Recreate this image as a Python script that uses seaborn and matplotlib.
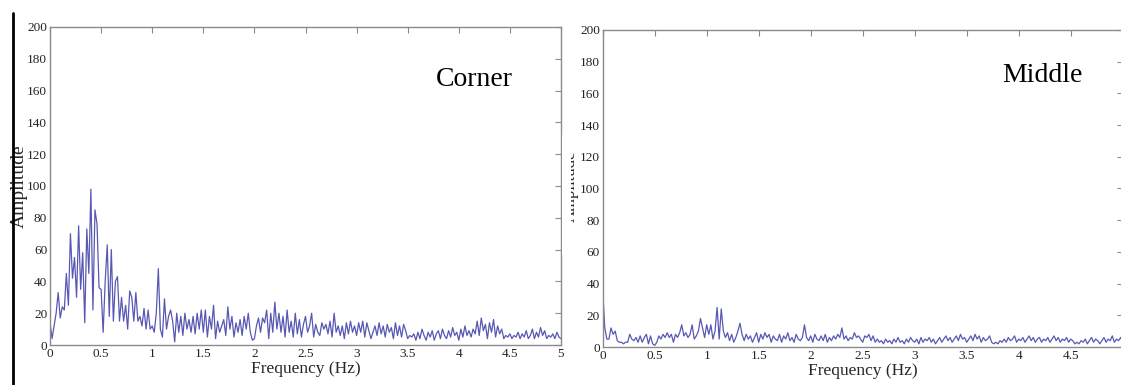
import numpy as np
import pandas as pd
import matplotlib
matplotlib.use("Agg")
import matplotlib.pyplot as plt
import seaborn as sns
from matplotlib.lines import Line2D
from matplotlib.patches import Rectangle

# spectrum amplitudes, one value every 0.02 Hz (0 .. 5 Hz)
corner_amp = [
    14, 4, 12, 20, 33, 17, 24, 22, 45, 25,
    70, 42, 55, 30, 75, 35, 58, 14, 73, 45,
    98, 22, 85, 76, 36, 35, 8, 40, 63, 18,
    60, 15, 40, 43, 15, 30, 15, 25, 10, 34,
    30, 15, 33, 15, 18, 12, 23, 10, 22, 10,
    12, 8, 20, 48, 10, 5, 29, 10, 18, 22,
    15, 2, 20, 8, 18, 6, 20, 10, 16, 8,
    18, 7, 20, 10, 22, 8, 22, 5, 18, 10,
    25, 4, 15, 8, 12, 16, 6, 24, 10, 18,
    5, 14, 8, 16, 6, 18, 10, 20, 8, 3,
    4, 12, 17, 8, 17, 14, 22, 4, 20, 8,
    27, 10, 20, 8, 18, 5, 22, 8, 15, 5,
    20, 7, 16, 5, 13, 18, 8, 12, 20, 5,
    13, 8, 6, 14, 10, 13, 7, 15, 5, 20,
    8, 12, 6, 12, 4, 14, 7, 15, 8, 12,
    6, 14, 8, 15, 5, 14, 9, 4, 8, 12,
    6, 14, 7, 12, 5, 13, 8, 11, 4, 14,
    6, 12, 5, 13, 9, 4, 6, 5, 7, 3,
    8, 4, 10, 6, 3, 8, 5, 9, 3, 7,
    9, 4, 10, 6, 4, 9, 5, 11, 6, 8,
    3, 10, 5, 12, 6, 9, 5, 10, 7, 15,
    6, 17, 9, 13, 4, 14, 8, 16, 5, 12,
    7, 10, 4, 6, 5, 7, 4, 6, 5, 8,
    4, 7, 5, 9, 4, 6, 10, 4, 8, 5,
    11, 6, 9, 4, 6, 5, 7, 4, 8, 5,
    4,
]

middle_amp = [
    36, 12, 5, 5, 12, 8, 10, 4, 3, 3,
    2, 3, 3, 8, 5, 4, 6, 3, 7, 3,
    6, 8, 2, 7, 2, 1, 3, 7, 5, 8,
    6, 9, 6, 8, 3, 8, 6, 9, 14, 7,
    9, 6, 8, 14, 5, 7, 10, 18, 12, 6,
    14, 8, 14, 5, 10, 25, 5, 24, 10, 6,
    9, 4, 8, 3, 6, 10, 15, 8, 4, 8,
    5, 7, 3, 6, 9, 3, 8, 5, 9, 6,
    8, 3, 7, 5, 4, 8, 3, 7, 5, 9,
    4, 6, 3, 8, 5, 4, 6, 14, 6, 4,
    7, 3, 8, 5, 4, 7, 4, 8, 3, 6,
    4, 7, 5, 8, 6, 12, 5, 7, 4, 6,
    5, 9, 6, 7, 5, 3, 7, 6, 8, 4,
    7, 3, 5, 3, 4, 2, 5, 3, 4, 2,
    5, 3, 6, 3, 4, 2, 5, 3, 6, 4,
    3, 5, 2, 6, 3, 5, 4, 6, 3, 5,
    2, 4, 6, 3, 5, 7, 4, 6, 3, 5,
    7, 4, 8, 5, 6, 3, 5, 7, 4, 8,
    5, 7, 3, 6, 4, 5, 7, 3, 2, 3,
    2, 4, 3, 5, 3, 6, 4, 5, 7, 3,
    5, 4, 6, 3, 5, 7, 4, 6, 3, 5,
    6, 3, 5, 4, 6, 3, 5, 7, 4, 6,
    3, 5, 4, 6, 3, 5, 4, 2, 3, 2,
    4, 3, 5, 2, 4, 6, 3, 5, 4, 2,
    4, 6, 3, 5, 4, 7, 3, 5, 4, 6,
    3,
]

step_hz = 0.02
corner_freq = np.arange(len(corner_amp)) * step_hz
middle_freq = np.arange(len(middle_amp)) * step_hz

x_ticks = [0, 0.5, 1, 1.5, 2, 2.5, 3, 3.5, 4, 4.5, 5]
x_labels = ["0", "0.5", "1", "1.5", "2", "2.5", "3", "3.5", "4", "4.5", "5"]
y_ticks = [0, 20, 40, 60, 80, 100, 120, 140, 160, 180, 200]

sns.set_style("white")
plt.rcParams["font.family"] = ["Liberation Serif", "DejaVu Serif"]

W, H = 1121, 385
fig = plt.figure(figsize=(W / 100, H / 100), dpi=100)

line_color = "#5858b4"
spine_color = "#8a8a8a"


def style_axes(ax, labels):
    ax.set_xlim(0, 5)
    ax.set_ylim(0, 200)
    ax.set_xticks(x_ticks)
    ax.set_xticklabels(labels)
    ax.set_yticks(y_ticks)
    ax.tick_params(direction="in", length=4, width=0.8, color=spine_color,
                   top=True, right=True, labelsize=9.5, labelcolor="#222222",
                   pad=2)
    for s in ax.spines.values():
        s.set_color(spine_color)
        s.set_linewidth(1.0)
    ax.set_xlabel("Frequency (Hz)", fontsize=12.5, labelpad=1)


# left panel: corner
ax1 = fig.add_axes([50 / W, (H - 345) / H, 511 / W, 318 / H])
df1 = pd.DataFrame({"freq": corner_freq, "amp": corner_amp})
sns.lineplot(data=df1, x="freq", y="amp", ax=ax1, color=line_color, linewidth=0.9)
style_axes(ax1, x_labels)
ax1.set_ylabel("Amplitude", fontsize=14)
ax1.yaxis.set_label_coords(-0.043, 0.5)
ax1.text(0.83, 0.835, "Corner", transform=ax1.transAxes, fontsize=20,
         ha="center", va="center", color="black")

# right panel: middle (its right edge runs off the picture)
ax2 = fig.add_axes([602.7 / W, (H - 347) / H, 520 / W, 317 / H])
df2 = pd.DataFrame({"freq": middle_freq, "amp": middle_amp})
sns.lineplot(data=df2, x="freq", y="amp", ax=ax2, color=line_color, linewidth=0.9)
style_axes(ax2, x_labels[:-1] + [""])
ax2.set_ylabel("")
ax2.text(0.846, 0.855, "Middle", transform=ax2.transAxes, fontsize=20,
         ha="center", va="center", color="black")

# partly hidden y label of the right panel
fig.text(571 / W, (H - 186) / H, "Amplitude", rotation=90, fontsize=12,
         ha="center", va="center", zorder=2)
fig.add_artist(Rectangle((562 / W, 130 / H), 9 / W, 120 / H, facecolor="white",
                         edgecolor="none", transform=fig.transFigure, zorder=4))

# dark border line at the far left
fig.add_artist(Line2D([13 / W, 13 / W], [0, (H - 13) / H], color="black",
                      linewidth=2, transform=fig.transFigure))

fig.savefig("out.png", dpi=100)
